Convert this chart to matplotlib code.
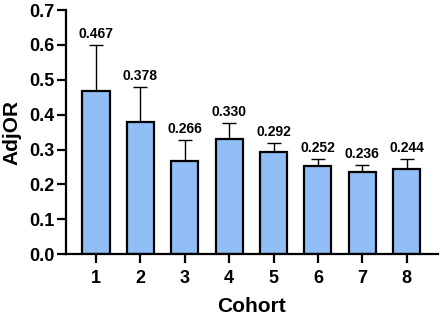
import matplotlib.pyplot as plt
import numpy as np

plt.rcParams['font.family'] = ['Liberation Sans', 'DejaVu Sans']
plt.rcParams['font.weight'] = 'bold'

# данные
cohorts = ['1', '2', '3', '4', '5', '6', '7', '8']
adj_or = [0.467, 0.378, 0.266, 0.330, 0.292, 0.252, 0.236, 0.244]
upper_ci = [0.600, 0.480, 0.327, 0.375, 0.319, 0.273, 0.255, 0.272]

x = np.arange(1, len(cohorts) + 1)
err_up = np.array(upper_ci) - np.array(adj_or)

fig = plt.figure(figsize=(4.4, 3.16), dpi=100)
ax = fig.add_axes([0.15, 0.196, 0.845, 0.772])

ax.bar(x, adj_or, width=0.61, color='#90BEF5', edgecolor='black', linewidth=1.6, zorder=2)
ax.errorbar(x, adj_or, yerr=[np.zeros(len(x)), err_up], fmt='none', ecolor='black',
            elinewidth=1.0, capsize=5, capthick=1.0, zorder=1)

# подписи значений
for xi, v, top in zip(x, adj_or, upper_ci):
    ax.annotate(f'{v:.3f}', (xi, top), xytext=(0, 3), textcoords='offset points',
                ha='center', va='bottom', fontsize=10, fontweight='bold')

ax.set_xlim(0.325, 8.7)
ax.set_ylim(0, 0.7)
ax.set_xticks(x)
ax.set_xticklabels(cohorts)
ax.set_yticks(np.arange(0, 0.71, 0.1))
ax.set_yticklabels([f'{t:.1f}' for t in np.arange(0, 0.71, 0.1)])

for s in ['top', 'right']:
    ax.spines[s].set_visible(False)
for s in ['left', 'bottom']:
    ax.spines[s].set_linewidth(1.6)

ax.tick_params(axis='both', width=1.6, length=6.5, labelsize=13)
ax.tick_params(axis='y', pad=2)
ax.tick_params(axis='x', pad=5)
ax.set_xlabel('Cohort', fontsize=15, fontweight='bold', labelpad=7)
ax.set_ylabel('AdjOR', fontsize=15, fontweight='bold', labelpad=5)

fig.savefig('out.png', dpi=100)
